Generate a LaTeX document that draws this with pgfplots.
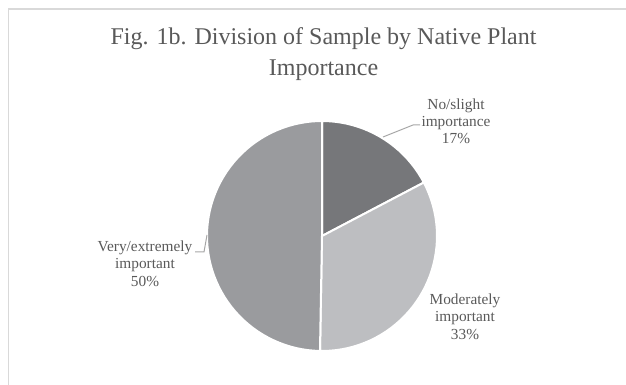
\documentclass[border=0pt]{standalone}
\usepackage{pgfplots}
\pgfplotsset{compat=1.18}
\usepackage{fontspec}
\setmainfont{Liberation Serif}
\definecolor{sdark}{HTML}{76777A}
\definecolor{slight}{HTML}{BDBEC1}
\definecolor{smid}{HTML}{9A9B9E}
\definecolor{txt}{HTML}{595959}
\definecolor{lead}{HTML}{A6A6A6}
\definecolor{frame}{HTML}{D9D9D9}
\begin{document}
\begin{tikzpicture}
\path[use as bounding box] (0,0) rectangle (469.5pt,288.75pt);
\begin{axis}[
  scale only axis, width=469.5pt, height=288.75pt,
  xmin=-322, xmax=304, ymin=-149, ymax=236,
  hide axis, clip=false,
]
% 17% slice
\addplot[data cs=polar, fill=sdark, draw=white, line width=1.5pt] coordinates {
(0,0) (90,115) (87,115) (84,115) (81,115) (78,115) (75,115) (72,115) (69,115) (66,115) (63,115) (60,115) (57,115) (54,115) (51,115) (48,115) (45,115) (42,115) (39,115) (36,115) (33,115) (30,115) (27.7,115)
} -- cycle;
% 33% slice
\addplot[data cs=polar, fill=slight, draw=white, line width=1.5pt] coordinates {
(0,0) (27.7,115) (25,115) (22,115) (19,115) (16,115) (13,115) (10,115) (7,115) (4,115) (1,115) (-2,115) (-5,115) (-8,115) (-11,115) (-14,115) (-17,115) (-20,115) (-23,115) (-26,115) (-29,115) (-32,115) (-35,115) (-38,115) (-41,115) (-44,115) (-47,115) (-50,115) (-53,115) (-56,115) (-59,115) (-62,115) (-65,115) (-68,115) (-71,115) (-74,115) (-77,115) (-80,115) (-83,115) (-86,115) (-89,115) (-91,115)
} -- cycle;
% 50% slice
\addplot[data cs=polar, fill=smid, draw=white, line width=1.5pt] coordinates {
(0,0) (-91,115) (-94,115) (-97,115) (-100,115) (-103,115) (-106,115) (-109,115) (-112,115) (-115,115) (-118,115) (-121,115) (-124,115) (-127,115) (-130,115) (-133,115) (-136,115) (-139,115) (-142,115) (-145,115) (-148,115) (-151,115) (-154,115) (-157,115) (-160,115) (-163,115) (-166,115) (-169,115) (-172,115) (-175,115) (-178,115) (-181,115) (-184,115) (-187,115) (-190,115) (-193,115) (-196,115) (-199,115) (-202,115) (-205,115) (-208,115) (-211,115) (-214,115) (-217,115) (-220,115) (-223,115) (-226,115) (-229,115) (-232,115) (-235,115) (-238,115) (-241,115) (-244,115) (-247,115) (-250,115) (-253,115) (-256,115) (-259,115) (-262,115) (-265,115) (-268,115) (-270,115)
} -- cycle;
% frame
\draw[frame, line width=0.9pt] (axis cs:-313.3,-149) -- (axis cs:-313.3,227) -- (axis cs:304,227);
% title
\node[anchor=base, text=txt, font=\fontsize{18}{22}\selectfont, inner sep=0pt] at (axis cs:1.5,191) {Fig. 1b. Division of Sample by Native Plant};
\node[anchor=base, text=txt, font=\fontsize{18}{22}\selectfont, inner sep=0pt] at (axis cs:1.5,160) {Importance};
% leader lines
\draw[lead, line width=0.75pt] (axis cs:61,99) -- (axis cs:91,111) -- (axis cs:98,111);
\draw[lead, line width=0.75pt] (axis cs:-127,-16) -- (axis cs:-118,-16) -- (axis cs:-115,1);
% labels
\begin{scope}[every node/.style={anchor=base, text=txt, font=\fontsize{11.5}{13}\selectfont, inner sep=0pt}]
\node at (axis cs:134,126.7) {No/slight};
\node at (axis cs:134,109.5) {importance};
\node at (axis cs:134,92) {17\%};
\node at (axis cs:-177,-15.7) {Very/extremely};
\node at (axis cs:-177,-33) {important};
\node at (axis cs:-177,-51) {50\%};
\node at (axis cs:143,-68.5) {Moderately};
\node at (axis cs:143,-86) {important};
\node at (axis cs:143,-103.5) {33\%};
\end{scope}
\end{axis}
\end{tikzpicture}
\end{document}
